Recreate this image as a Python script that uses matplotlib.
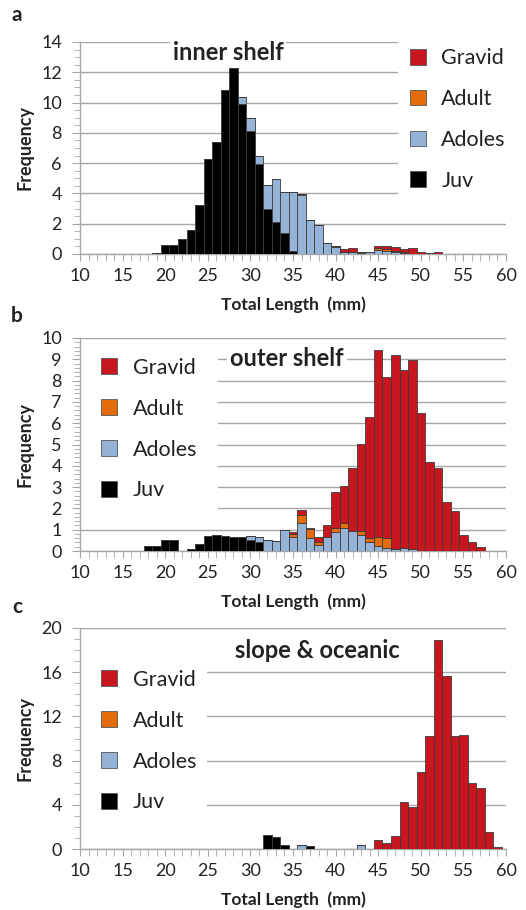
import numpy as np
import matplotlib
matplotlib.use("Agg")
import matplotlib.pyplot as plt
from matplotlib.patches import Patch, Rectangle
from matplotlib.ticker import MultipleLocator

plt.rcParams['font.family'] = ['Lato', 'DejaVu Sans']

# size classes (total length, mm), one bar per mm
lengths = np.arange(18, 60)

# rows of 10: 18-27, 28-37, 38-47, 48-57, then 58-59
a_juv = [0.03, 0.08, 0.6, 0.57, 1.0, 1.6, 3.25, 6.3, 7.4, 10.85,
         12.3, 9.93, 8.1, 5.96, 2.98, 2.1, 1.36, 0.22, 0, 0,
         0, 0, 0, 0, 0, 0, 0, 0, 0, 0,
         0, 0, 0, 0, 0, 0, 0, 0, 0, 0,
         0, 0]
a_adol = [0, 0, 0, 0, 0, 0, 0, 0, 0, 0,
          0, 0.47, 0.9, 0.49, 1.58, 2.85, 2.76, 3.9, 3.88, 2.26,
          1.93, 0.72, 0.46, 0.1, 0.15, 0.05, 0.12, 0.25, 0.2, 0.1,
          0.05, 0, 0, 0, 0, 0, 0, 0, 0, 0,
          0, 0]
a_adult = [0, 0, 0, 0, 0, 0, 0, 0, 0, 0,
           0, 0, 0, 0, 0, 0, 0, 0, 0.06, 0,
           0, 0, 0.1, 0, 0, 0.08, 0, 0.15, 0.1, 0.12,
           0.1, 0, 0, 0, 0, 0, 0, 0, 0, 0,
           0, 0]
a_grav = [0, 0, 0, 0, 0, 0, 0, 0, 0, 0,
          0, 0, 0, 0, 0, 0, 0, 0, 0, 0,
          0, 0, 0, 0.2, 0.25, 0, 0, 0.15, 0.2, 0.22,
          0.15, 0.4, 0.12, 0.08, 0.15, 0, 0, 0, 0, 0,
          0, 0]

b_juv = [0.25, 0.25, 0.5, 0.5, 0, 0.08, 0.35, 0.72, 0.75, 0.72,
         0.65, 0.65, 0.5, 0.42, 0, 0, 0, 0, 0, 0,
         0, 0, 0, 0, 0, 0, 0, 0, 0, 0,
         0, 0, 0, 0, 0, 0, 0, 0, 0, 0,
         0, 0]
b_adol = [0, 0, 0, 0, 0, 0, 0, 0, 0, 0,
          0, 0, 0.2, 0.26, 0.52, 0.47, 1.0, 0.68, 1.3, 0.63,
          0.27, 0.66, 0.9, 1.07, 0.93, 0.77, 0.4, 0.23, 0.13, 0.1,
          0.12, 0.08, 0, 0, 0, 0, 0, 0, 0, 0,
          0, 0]
b_adult = [0, 0, 0, 0, 0, 0, 0, 0, 0, 0,
           0, 0, 0, 0, 0, 0, 0, 0.14, 0.4, 0.39,
           0.13, 0, 0.2, 0.25, 0, 0.18, 0.23, 0.44, 0.47, 0,
           0, 0, 0, 0, 0, 0, 0, 0, 0, 0,
           0, 0]
b_grav = [0, 0, 0, 0, 0, 0, 0, 0, 0, 0,
          0, 0, 0, 0, 0, 0, 0, 0.08, 0.23, 0.05,
          0.25, 0.58, 1.68, 1.73, 2.97, 4.07, 5.65, 8.75, 7.56, 9.1,
          8.36, 8.87, 6.5, 4.2, 3.9, 2.3, 1.88, 0.77, 0.44, 0.2,
          0, 0]

c_juv = [0, 0, 0, 0, 0, 0, 0, 0, 0, 0,
         0, 0, 0, 0, 1.3, 1.09, 0.33, 0, 0, 0.3,
         0, 0, 0, 0, 0, 0, 0, 0, 0, 0,
         0, 0, 0, 0, 0, 0, 0, 0, 0, 0,
         0, 0]
c_adol = [0, 0, 0, 0, 0, 0, 0, 0, 0, 0,
          0, 0, 0, 0, 0, 0, 0, 0, 0.33, 0,
          0, 0, 0, 0, 0, 0.33, 0, 0, 0, 0,
          0, 0, 0, 0, 0, 0, 0, 0, 0, 0,
          0, 0]
c_adult = [0] * 42
c_grav = [0, 0, 0, 0, 0, 0, 0, 0, 0, 0,
          0, 0, 0, 0, 0, 0, 0, 0, 0, 0,
          0, 0, 0, 0, 0, 0, 0, 0.78, 0.57, 1.2,
          4.25, 3.8, 6.94, 10.2, 18.9, 15.7, 10.2, 10.3, 5.94, 5.5,
          1.57, 0.21]

stages = ['Gravid', 'Adult', 'Adoles', 'Juv']
colors = {'Gravid': '#C8161E', 'Adult': '#E46C0A', 'Adoles': '#95B3D7', 'Juv': '#000000'}

GRID = '#A6A6A6'
TXT = '#222222'

W, H = 526, 910
fig = plt.figure(figsize=(W / 100, H / 100), dpi=100)


def px_axes(left, top, right, bottom):
    return fig.add_axes([left / W, 1 - bottom / H, (right - left) / W, (bottom - top) / H])


def panel(ax, juv, adol, adult, grav, ymax, major, minor, title, title_xy, mask, leg_xy, letter, letter_y):
    juv, adol, adult, grav = map(np.array, (juv, adol, adult, grav))
    kw = dict(width=1.0, edgecolor='#3c3c3c', linewidth=0.6, zorder=3)
    ax.bar(lengths, juv, color=colors['Juv'], **kw)
    ax.bar(lengths, adol, bottom=juv, color=colors['Adoles'], **kw)
    ax.bar(lengths, adult, bottom=juv + adol, color=colors['Adult'], **kw)
    ax.bar(lengths, grav, bottom=juv + adol + adult, color=colors['Gravid'], **kw)

    ax.set_xlim(10, 60)
    ax.set_ylim(0, ymax)
    ax.xaxis.set_major_locator(MultipleLocator(5))
    ax.xaxis.set_minor_locator(MultipleLocator(1))
    ax.yaxis.set_major_locator(MultipleLocator(major))
    ax.yaxis.set_minor_locator(MultipleLocator(minor))
    for s in ['top', 'right']:
        ax.spines[s].set_visible(False)
    for s in ['left', 'bottom']:
        ax.spines[s].set_color(GRID)
        ax.spines[s].set_linewidth(1)
    ax.set_axisbelow(True)
    ax.grid(axis='y', which='major', color=GRID, linewidth=1, zorder=0)
    ax.tick_params(axis='both', which='both', direction='out', color=GRID, labelcolor=TXT, labelsize=13)
    ax.tick_params(axis='x', which='both', length=5, pad=5)
    ax.tick_params(axis='y', which='major', length=6, pad=7)
    ax.tick_params(axis='y', which='minor', length=4)

    # white area behind legend hides the gridlines, as in the original
    ax.add_patch(Rectangle((mask[0], mask[2]), mask[1] - mask[0], mask[3] - mask[2],
                           transform=ax.get_yaxis_transform(), facecolor='white',
                           edgecolor='none', zorder=1, clip_on=False))

    ax.text(title_xy[0], title_xy[1], title, transform=ax.transAxes, fontsize=17,
            fontweight='bold', color=TXT, ha='center', va='center', zorder=2,
            bbox=dict(facecolor='white', edgecolor='none', pad=2))

    handles = [Patch(facecolor=colors[s], edgecolor='#555555', linewidth=0.6, label=s) for s in stages]
    ax.legend(handles=handles, loc='upper left', bbox_to_anchor=leg_xy, frameon=False,
              fontsize=15.5, handlelength=0.75, handleheight=0.75, handletextpad=0.7,
              labelspacing=0.97, borderaxespad=0, borderpad=0, labelcolor=TXT)

    ax.set_ylabel('Frequency', fontsize=13, fontweight='bold', color=TXT)
    ax.yaxis.label.set_va('center')
    ax.yaxis.set_label_coords(-0.129, 0.5)
    ax.set_xlabel('Total Length  (mm)', fontsize=12.5, fontweight='bold', color=TXT)
    ax.xaxis.label.set_va('center')
    h = ax.get_position().height * H
    ax.xaxis.set_label_coords(0.5, -51 / h)

    fig.text(17 / W, 1 - letter_y / H, letter, fontsize=15, fontweight='bold',
             color=TXT, ha='center', va='center')


ax_a = px_axes(80, 42, 506, 254)
panel(ax_a, a_juv, a_adol, a_adult, a_grav, 14, 2, 0.5, 'inner shelf', (0.348, 0.95),
      (0.746, 1.1, 3, 14.5), (0.775, 0.971), 'a', 15)

ax_b = px_axes(80, 338, 506, 551)
panel(ax_b, b_juv, b_adol, b_adult, b_grav, 10, 1, 0.2, 'outer shelf', (0.486, 0.905),
      (0.0, 0.324, 1.5, 9.5), (0.05, 0.907), 'b', 316)

ax_c = px_axes(80, 628, 506, 849)
panel(ax_c, c_juv, c_adol, c_adult, c_grav, 20, 4, 1, 'slope & oceanic', (0.557, 0.9),
      (0.0, 0.298, 2, 18), (0.05, 0.811), 'c', 607)

fig.savefig('out.png', dpi=100)
